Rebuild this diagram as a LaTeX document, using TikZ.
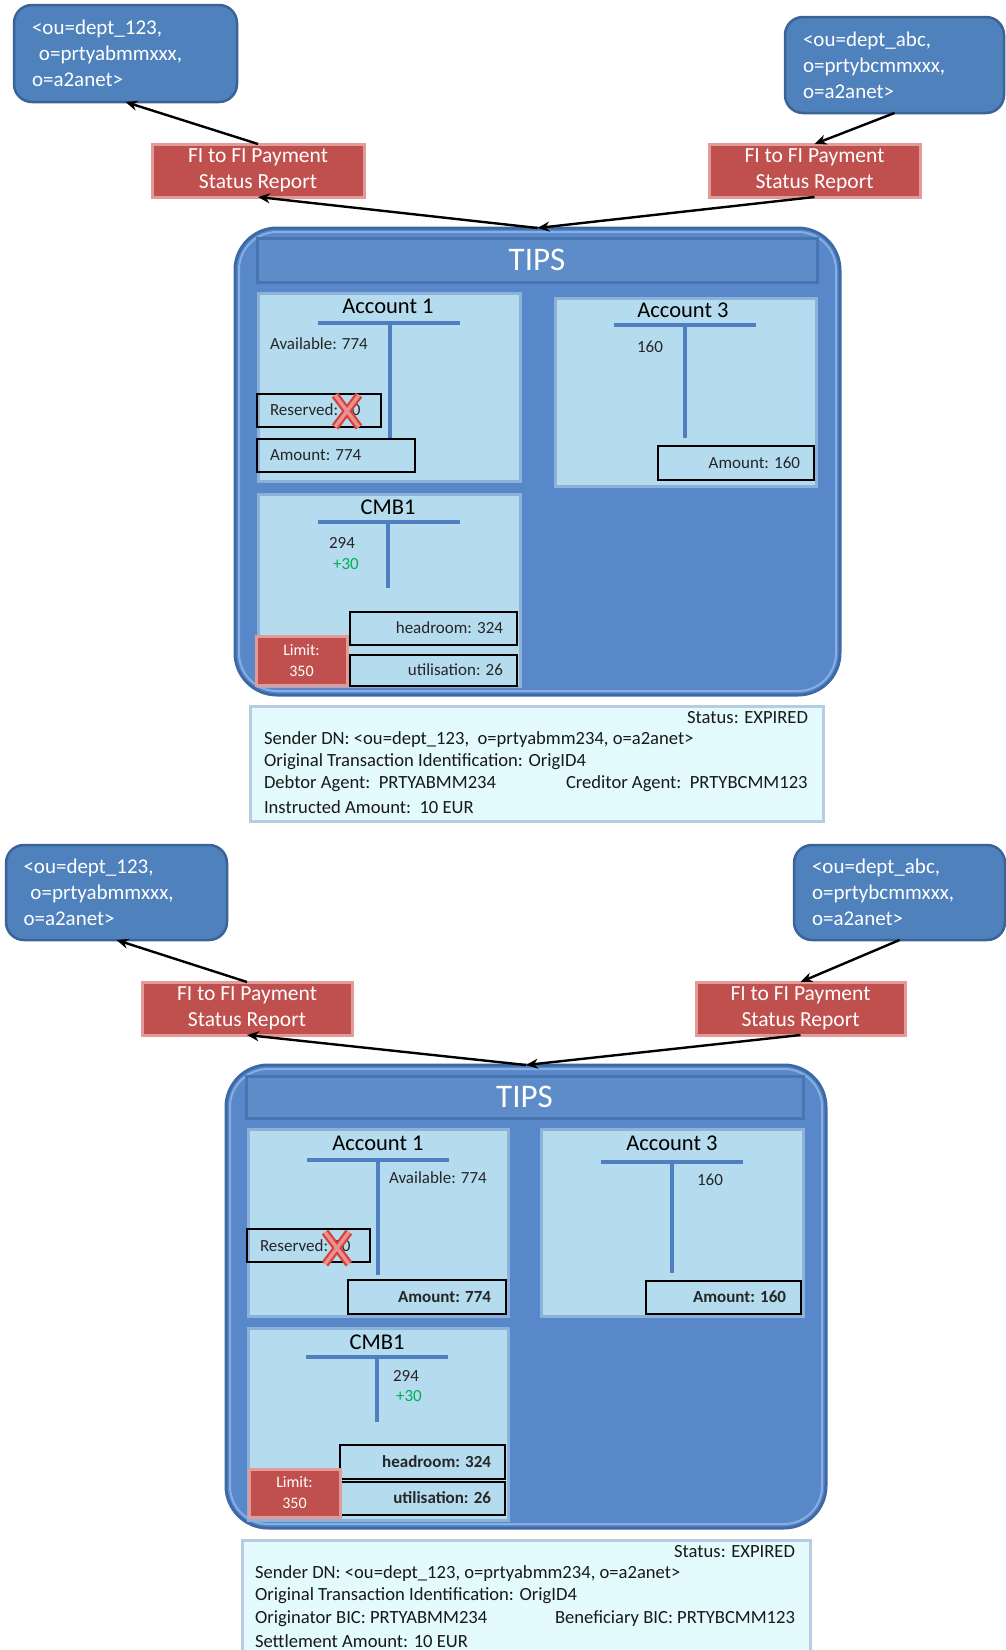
\documentclass[tikz,border=0pt]{standalone}
\usepackage{fontspec}
\setmainfont{Carlito}
\usetikzlibrary{arrows.meta}
\definecolor{dnblue}{HTML}{4F81BD}
\definecolor{dnedge}{HTML}{3B6396}
\definecolor{rptred}{HTML}{C0504D}
\definecolor{rptedge}{HTML}{E39B99}
\definecolor{tipsfill}{HTML}{5888CA}
\definecolor{tipsedge}{HTML}{3D69A6}
\definecolor{tipshi}{HTML}{86AEE0}
\definecolor{barfill}{HTML}{5D8CC8}
\definecolor{baredge}{HTML}{4775B2}
\definecolor{accfill}{HTML}{B4DCEE}
\definecolor{accedge}{HTML}{8CB2DA}
\definecolor{tbarc}{HTML}{4F7FC0}
\definecolor{infofill}{HTML}{E3FBFD}
\definecolor{infoedge}{HTML}{B7CBE2}
\definecolor{plusgreen}{HTML}{00B050}
\definecolor{xred}{HTML}{D9403C}
\definecolor{xlight}{HTML}{F3D6D6}
\tikzset{
 every node/.style={outer sep=0pt},
 dnbox/.style={draw=dnedge, fill=dnblue, line width=2.5pt, rounded corners=18pt, text=white, align=left, inner xsep=18pt, inner ysep=0pt, anchor=north west, font=\fontsize{21}{26}\selectfont},
 rptbox/.style={draw=rptedge, fill=rptred, line width=3pt, text=white, align=center, inner sep=0pt, anchor=north west, font=\fontsize{21.5}{26}\selectfont},
 tipsbox/.style={draw=tipsedge, fill=tipsfill, line width=3pt, rounded corners=42pt, anchor=north west, inner sep=0pt},
 barbox/.style={draw=baredge, fill=barfill, line width=3pt, anchor=north west, inner sep=0pt, text=white, font=\fontsize{33}{36}\selectfont},
 accbox/.style={draw=accedge, fill=accfill, line width=3pt, anchor=north west, inner sep=0pt},
 valbox/.style={draw=black, line width=1.2pt, anchor=north west, inner sep=0pt},
 acctitle/.style={inner sep=0pt, font=\fontsize{22.5}{24}\selectfont},
 val/.style={inner sep=0pt, font=\fontsize{17}{18}\selectfont, text=black!85},
 bval/.style={inner sep=0pt, font=\fontsize{17}{18}\selectfont\bfseries, text=black!85},
 tline/.style={draw=tbarc, line width=4pt},
 limitbox/.style={draw=rptedge, fill=rptred, line width=3pt, anchor=north west, inner sep=0pt, text=white, align=center, font=\fontsize{16}{21}\selectfont},
 infobox/.style={draw=infoedge, fill=infofill, line width=3pt, anchor=north west, inner sep=0pt},
 info/.style={inner sep=0pt, font=\fontsize{18.6}{20}\selectfont, text=black!90},
 arr/.style={draw=black, line width=2.4pt, -{Stealth[length=12pt,width=10pt]}},
 xouter/.style={draw=xred, line width=8pt},
 xinner/.style={draw=xlight, line width=3.5pt, draw opacity=0.55},
}
\begin{document}
\begin{tikzpicture}[x=1pt,y=-1pt]
\useasboundingbox (0,0) rectangle (1005,1650);
\fill[white] (0,0) rectangle (1005,1650);

%%%%%%%%%%%%%%%% TOP HALF
\node[dnbox, minimum width=223, minimum height=97, text width=187] (dnA1) at (14,5) {<ou=dept\_123,\\\ o=prtyabmmxxx,\\o=a2anet>};
\node[dnbox, minimum width=219, minimum height=96, text width=183] (dnB1) at (785,17) {<ou=dept\_abc,\\o=prtybcmmxxx,\\o=a2anet>};
\node[rptbox, minimum width=212, minimum height=53] (rA1) at (152,144) {FI to FI Payment\\Status Report};
\node[rptbox, minimum width=211, minimum height=53] (rB1) at (709,144) {FI to FI Payment\\Status Report};

\node[tipsbox, minimum width=605, minimum height=467] (tips1) at (235,228) {};
\draw[tipshi, line width=2pt, rounded corners=38pt] (239,232) rectangle (836,691);
\node[barbox, minimum width=560, minimum height=44] (bar1) at (257,238) {TIPS};

\draw[arr] (rA1.north) -- (dnA1.south);
\draw[arr] (dnB1.south) -- (rB1.north);
\draw[arr] (tips1.north) -- (rA1.south);
\draw[arr] (rB1.south) -- (tips1.north);

% Account 1
\node[accbox, minimum width=262, minimum height=188] (acA1) at (258,293) {};
\node[acctitle] (acA1t) at (388,306) {Account 1};
\coordinate (tA1l) at (318,323); \coordinate (tA1r) at (460,323);
\coordinate (tA1m) at (390,323); \coordinate (tA1b) at (390,439);
\draw[tline] (tA1l) -- (tA1r); \draw[tline] (tA1m) -- (tA1b);
\node[val, anchor=west] (avA1) at (270,344) {Available: 774};
\node[valbox, minimum width=124, minimum height=33] (resA1) at (257,394) {};
\node[val, anchor=west] (resA1t) at (270,410) {Reserved: 30};
\node[valbox, minimum width=158, minimum height=33] (amA1) at (257,439) {};
\node[val, anchor=west] (amA1t) at (270,455) {Amount: 774};
\draw[xouter, shift={(347,411)}] (-12,-16) -- (12,16) (-12,16) -- (12,-16);
\draw[xinner, shift={(347,411)}] (-12,-16) -- (12,16) (-12,16) -- (12,-16);

% Account 3
\node[accbox, minimum width=261, minimum height=188] (acB1) at (555,298) {};
\node[acctitle] (acB1t) at (683,310) {Account 3};
\coordinate (tB1l) at (614,325); \coordinate (tB1r) at (756,325);
\coordinate (tB1m) at (685,325); \coordinate (tB1b) at (685,438);
\draw[tline] (tB1l) -- (tB1r); \draw[tline] (tB1m) -- (tB1b);
\node[val] (v160a) at (650,347) {160};
\node[valbox, minimum width=156, minimum height=34] (amB1) at (658,446) {};
\node[val, anchor=east] (amB1t) at (800,463) {Amount: 160};

% CMB1
\node[accbox, minimum width=262, minimum height=192] (cmA1) at (258,494) {};
\node[acctitle] (cmA1t) at (388,507) {CMB1};
\coordinate (tC1l) at (318,522); \coordinate (tC1r) at (460,522);
\coordinate (tC1m) at (388,522); \coordinate (tC1b) at (388,588);
\draw[tline] (tC1l) -- (tC1r); \draw[tline] (tC1m) -- (tC1b);
\node[val] (v294a) at (342,543) {294};
\node[val, text=plusgreen] (p30a) at (346,564) {+30};
\node[valbox, minimum width=167, minimum height=33] (hdA1) at (350,612) {};
\node[val, anchor=east] (hdA1t) at (503,628) {headroom: 324};
\node[valbox, minimum width=167, minimum height=31] (utA1) at (350,655) {};
\node[val, anchor=east] (utA1t) at (503,670) {utilisation: 26};
\node[limitbox, minimum width=91, minimum height=49] (limA1) at (256,636) {Limit:\\350};

% info box
\node[infobox, minimum width=573, minimum height=115] (inf1) at (250,706) {};
\node[info, anchor=east] (i1s) at (808,718) {Status: EXPIRED};
\node[info, anchor=west] (i1a) at (264,740) {Sender DN: <ou=dept\_123,\ \ o=prtyabmm234, o=a2anet>};
\node[info, anchor=west] (i1b) at (264,762) {Original Transaction Identification: OrigID4};
\node[info, anchor=west] (i1c) at (264,784) {Debtor Agent:\ \ PRTYABMM234};
\node[info, anchor=west] (i1d) at (566,784) {Creditor Agent:\ \ PRTYBCMM123};
\node[info, anchor=west] (i1e) at (264,807) {Instructed Amount:\ \ 10 EUR};

%%%%%%%%%%%%%%%% BOTTOM HALF
\node[dnbox, minimum width=221, minimum height=95, text width=186, inner xsep=17pt] (dnA2) at (6,845) {<ou=dept\_123,\\\ o=prtyabmmxxx,\\o=a2anet>};
\node[dnbox, minimum width=211, minimum height=95, text width=175] (dnB2) at (794,845) {<ou=dept\_abc,\\o=prtybcmmxxx,\\o=a2anet>};
\node[rptbox, minimum width=210, minimum height=53] (rA2) at (142,982) {FI to FI Payment\\Status Report};
\node[rptbox, minimum width=209, minimum height=53] (rB2) at (696,982) {FI to FI Payment\\Status Report};

\node[tipsbox, minimum width=600, minimum height=463] (tips2) at (226,1065) {};
\draw[tipshi, line width=2pt, rounded corners=38pt] (230,1069) rectangle (822,1524);
\node[barbox, minimum width=557, minimum height=42] (bar2) at (246,1076) {TIPS};

\draw[arr] (rA2.north) -- (dnA2.south);
\draw[arr] (dnB2.south) -- (rB2.north);
\draw[arr] (tips2.north) -- (rA2.south);
\draw[arr] (rB2.south) -- (tips2.north);

% Account 1
\node[accbox, minimum width=260, minimum height=187] (acA2) at (248,1129) {};
\node[acctitle] (acA2t) at (378,1143) {Account 1};
\coordinate (tA2l) at (307,1160); \coordinate (tA2r) at (449,1160);
\coordinate (tA2m) at (378,1160); \coordinate (tA2b) at (378,1275);
\draw[tline] (tA2l) -- (tA2r); \draw[tline] (tA2m) -- (tA2b);
\node[val, anchor=west] (avA2) at (389,1178) {Available: 774};
\node[valbox, minimum width=123, minimum height=33] (resA2) at (247,1229) {};
\node[val, anchor=west] (resA2t) at (260,1246) {Reserved: 30};
\draw[xouter, shift={(337,1248)}] (-12,-16) -- (12,16) (-12,16) -- (12,-16);
\draw[xinner, shift={(337,1248)}] (-12,-16) -- (12,16) (-12,16) -- (12,-16);
\node[valbox, minimum width=158, minimum height=34] (amA2) at (348,1280) {};
\node[bval, anchor=east] (amA2t) at (491,1297) {Amount: 774};

% Account 3
\node[accbox, minimum width=262, minimum height=187] (acB2) at (541,1129) {};
\node[acctitle] (acB2t) at (672,1143) {Account 3};
\coordinate (tB2l) at (601,1162); \coordinate (tB2r) at (743,1162);
\coordinate (tB2m) at (672,1162); \coordinate (tB2b) at (672,1273);
\draw[tline] (tB2l) -- (tB2r); \draw[tline] (tB2m) -- (tB2b);
\node[val] (v160b) at (710,1180) {160};
\node[valbox, minimum width=155, minimum height=33] (amB2) at (646,1281) {};
\node[bval, anchor=east] (amB2t) at (786,1297) {Amount: 160};

% CMB1
\node[accbox, minimum width=260, minimum height=192] (cmA2) at (248,1328) {};
\node[acctitle] (cmA2t) at (377,1342) {CMB1};
\coordinate (tC2l) at (306,1357); \coordinate (tC2r) at (448,1357);
\coordinate (tC2m) at (377,1357); \coordinate (tC2b) at (377,1422);
\draw[tline] (tC2l) -- (tC2r); \draw[tline] (tC2m) -- (tC2b);
\node[val] (v294b) at (406,1376) {294};
\node[val, text=plusgreen] (p30b) at (409,1396) {+30};
\node[valbox, minimum width=165, minimum height=34] (hdA2) at (340,1445) {};
\node[bval, anchor=east] (hdA2t) at (491,1462) {headroom: 324};
\node[valbox, minimum width=165, minimum height=33] (utA2) at (340,1482) {};
\node[bval, anchor=east] (utA2t) at (491,1498) {utilisation: 26};
\node[limitbox, minimum width=91, minimum height=48] (limA2) at (249,1469) {Limit:\\350};

% info box
\node[infobox, minimum width=568, minimum height=115] (inf2) at (242,1540) {};
\node[info, anchor=east] (i2s) at (795,1552) {Status: EXPIRED};
\node[info, anchor=west] (i2a) at (255,1574) {Sender DN: <ou=dept\_123, o=prtyabmm234, o=a2anet>};
\node[info, anchor=west] (i2b) at (255,1596) {Original Transaction Identification: OrigID4};
\node[info, anchor=west] (i2c) at (255,1619) {Originator BIC: PRTYABMM234};
\node[info, anchor=west] (i2d) at (555,1619) {Beneficiary BIC: PRTYBCMM123};
\node[info, anchor=west] (i2e) at (255,1641) {Settlement Amount: 10 EUR};
\end{tikzpicture}
\end{document}
